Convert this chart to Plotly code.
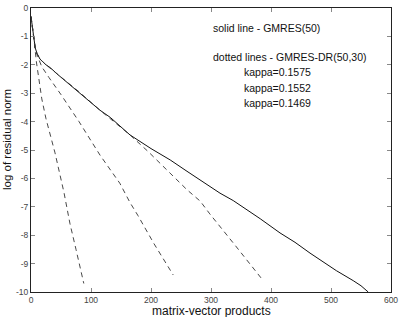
import plotly.graph_objects as go

# GMRES(50) solid line
gm_x = [0, 2, 4, 7, 10, 15, 25, 32, 45, 59, 80, 98, 115, 132, 150, 165, 200, 232, 260, 293, 315, 337, 360, 382, 415, 440, 465, 490, 509, 537, 550, 562]
gm_y = [-0.3, -0.6, -0.95, -1.4, -1.6, -1.8, -2.0, -2.1, -2.35, -2.6, -2.95, -3.3, -3.6, -3.85, -4.2, -4.47, -4.95, -5.35, -5.75, -6.23, -6.52, -6.78, -7.1, -7.42, -7.92, -8.25, -8.63, -9.0, -9.25, -9.6, -9.78, -10.0]

# GMRES-DR(50,30) dashed lines
dr1_x = [0, 2, 4, 6, 9, 13, 18, 25, 40, 55, 65, 75, 88]
dr1_y = [-0.3, -0.6, -0.95, -1.3, -1.9, -2.5, -3.2, -3.9, -5.1, -6.5, -7.6, -8.5, -9.7]

dr2_x = [0, 2, 4, 7, 10, 14, 18, 30, 50, 80, 115, 148, 165, 178, 205, 237]
dr2_y = [-0.3, -0.6, -0.95, -1.4, -1.65, -1.9, -2.07, -2.45, -3.05, -4.0, -5.18, -6.17, -6.85, -7.3, -8.3, -9.4]

dr3_x = [0, 2, 4, 7, 10, 15, 25, 45, 80, 115, 165, 195, 226, 260, 282, 298, 340, 384]
dr3_y = [-0.3, -0.6, -0.95, -1.4, -1.6, -1.8, -2.0, -2.35, -2.95, -3.6, -4.47, -5.05, -5.7, -6.4, -6.8, -7.25, -8.35, -9.52]

x_ticks = [0, 100, 200, 300, 400, 500, 600]
y_ticks = [0, -1, -2, -3, -4, -5, -6, -7, -8, -9, -10]

x_title = "matrix-vector products"
y_title = "log of residual norm"
legend_lines = ["solid line - GMRES(50)", "dotted lines - GMRES-DR(50,30)"]
kappa_labels = ["kappa=0.1575", "kappa=0.1552", "kappa=0.1469"]

fig = go.Figure()
fig.add_trace(go.Scatter(x=gm_x, y=gm_y, mode="lines",
                         line=dict(color="#111", width=1), showlegend=False))
for xs, ys in [(dr1_x, dr1_y), (dr2_x, dr2_y), (dr3_x, dr3_y)]:
    fig.add_trace(go.Scatter(x=xs, y=ys, mode="lines",
                             line=dict(color="#333", width=0.9, dash="5px,4px"),
                             showlegend=False))

font = "Liberation Sans, Arial, sans-serif"
axis_common = dict(showgrid=False, zeroline=False, showline=True, linecolor="#222",
                   linewidth=1, mirror="ticks", ticks="inside", ticklen=4,
                   tickcolor="#888", automargin=False,
                   tickfont=dict(family=font, size=8.5, color="#444"))

L, R, T, B = 31, 391, 8, 292
fig.update_layout(
    width=402, height=317,
    margin=dict(l=L, r=402 - R, t=T, b=317 - B),
    paper_bgcolor="white", plot_bgcolor="white",
    xaxis=dict(range=[0, 600], tickvals=x_ticks, ticktext=[str(v) for v in x_ticks], **axis_common),
    yaxis=dict(range=[-10, 0], tickvals=y_ticks, ticktext=[str(v) for v in y_ticks], **axis_common),
)

def px2paper(px, py):
    return (px - L) / (R - L), 1 - (py - T) / (B - T)

ann = [(legend_lines[0], 211, 28), (legend_lines[1], 211, 57),
       (kappa_labels[0], 242, 72), (kappa_labels[1], 242, 88), (kappa_labels[2], 242, 103)]
for txt, px, py in ann:
    ax, ay = px2paper(px, py)
    fig.add_annotation(x=ax, y=ay, xref="paper", yref="paper",
                       text=txt, showarrow=False, xanchor="left", yanchor="middle",
                       font=dict(family=font, size=10.5, color="#111"))

ax, ay = px2paper(211, 311)
fig.add_annotation(x=ax, y=ay, xref="paper", yref="paper", text=x_title, showarrow=False,
                   xanchor="center", yanchor="middle",
                   font=dict(family=font, size=12, color="#111"))
ax, ay = px2paper(7, 140)
fig.add_annotation(x=ax, y=ay, xref="paper", yref="paper", text=y_title, showarrow=False,
                   xanchor="center", yanchor="middle", textangle=-90,
                   font=dict(family=font, size=11.5, color="#111"))

fig.write_html("out.html", config={"displayModeBar": False},
               post_script="document.body.style.margin='0';document.body.style.overflow='hidden';")
